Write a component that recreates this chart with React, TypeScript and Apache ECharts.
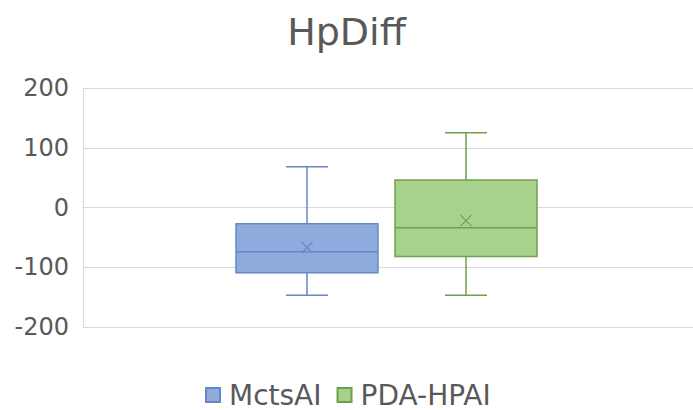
import React, { useEffect, useRef } from "react";
import * as echarts from "echarts";

const titleText = "HpDiff";
const categories = [""];
const seriesNames = ["MctsAI", "PDA-HPAI"];
// [min, Q1, median, Q3, max, mean]
const mctsStats = [-147, -109, -74, -27, 68, -67];
const pdaStats = [-147, -82, -34, 46, 125, -22];
const yTicks = { min: -200, max: 200, interval: 100 };

const fills = ["#8FAADC", "#A9D18E"];
const borders = ["#6689C6", "#6FA04C"];
const offsets = [-81, 78];
const BOX_W = 142;
const CAP_W = 42;
const MEAN_HALF = 5.5;

function makeRender(idx: number) {
  return (params: any, api: any) => {
    const xi = api.value(0);
    const ys = [1, 2, 3, 4, 5, 6].map((i) => api.coord([xi, api.value(i)])[1]);
    const cx0 = api.coord([xi, 0])[0];
    const cx = cx0 + offsets[idx];
    const [yMin, yQ1, yMed, yQ3, yMax, yMean] = ys;
    const stroke = borders[idx];
    const ls = { stroke, lineWidth: 1.5 };
    return {
      type: "group",
      children: [
        { type: "line", shape: { x1: cx, y1: yMax, x2: cx, y2: yQ3 }, style: ls },
        { type: "line", shape: { x1: cx, y1: yQ1, x2: cx, y2: yMin }, style: ls },
        { type: "line", shape: { x1: cx - CAP_W / 2, y1: yMax, x2: cx + CAP_W / 2, y2: yMax }, style: ls },
        { type: "line", shape: { x1: cx - CAP_W / 2, y1: yMin, x2: cx + CAP_W / 2, y2: yMin }, style: ls },
        {
          type: "rect",
          shape: { x: cx - BOX_W / 2, y: yQ3, width: BOX_W, height: yQ1 - yQ3 },
          style: { fill: fills[idx], stroke, lineWidth: 1.5 },
        },
        { type: "line", shape: { x1: cx - BOX_W / 2, y1: yMed, x2: cx + BOX_W / 2, y2: yMed }, style: ls },
        {
          type: "line",
          shape: { x1: cx - MEAN_HALF, y1: yMean - MEAN_HALF, x2: cx + MEAN_HALF, y2: yMean + MEAN_HALF },
          style: { stroke, lineWidth: 1.3 },
        },
        {
          type: "line",
          shape: { x1: cx - MEAN_HALF, y1: yMean + MEAN_HALF, x2: cx + MEAN_HALF, y2: yMean - MEAN_HALF },
          style: { stroke, lineWidth: 1.3 },
        },
      ],
    };
  };
}

export default function App() {
  const ref = useRef<HTMLDivElement>(null);
  useEffect(() => {
    if (!ref.current) return;
    const chart = echarts.init(ref.current, undefined, { renderer: "svg" });
    const font = "DejaVu Sans";
    const statsList = [mctsStats, pdaStats];
    chart.setOption({
      animation: false,
      title: {
        text: titleText,
        left: "center",
        top: 8,
        textStyle: { fontFamily: font, fontSize: 38, fontWeight: "normal", color: "#595959" },
      },
      legend: {
        data: seriesNames,
        left: 200,
        top: 376,
        icon: "rect",
        itemWidth: 14,
        itemHeight: 14,
        itemGap: 15,
        textStyle: { fontFamily: font, fontSize: 28, color: "#595959", lineHeight: 28, padding: [0, 0, 0, 4] },
      },
      grid: { left: 83, right: 0, top: 88, bottom: 83 },
      xAxis: {
        type: "category",
        data: categories,
        axisLine: { show: true, lineStyle: { color: "#D9D9D9", width: 1 } },
        axisTick: { show: false },
        axisLabel: { show: false },
        splitLine: { show: false },
      },
      yAxis: {
        type: "value",
        min: yTicks.min,
        max: yTicks.max,
        interval: yTicks.interval,
        axisLine: { show: true, lineStyle: { color: "#D9D9D9", width: 1 } },
        axisTick: { show: false },
        axisLabel: { fontFamily: font, fontSize: 24, color: "#595959", margin: 14, padding: [3, 0, 0, 0] },
        splitLine: { lineStyle: { color: "#D9D9D9", width: 1 } },
      },
      series: seriesNames.map((name, idx) => ({
        name,
        type: "custom",
        renderItem: makeRender(idx),
        encode: { x: 0, y: [1, 2, 3, 4, 5, 6] },
        itemStyle: { color: fills[idx], borderColor: borders[idx], borderWidth: 1 },
        data: [[categories[0], ...statsList[idx]]],
      })),
    });
    return () => chart.dispose();
  }, []);
  return (
    <div
      ref={ref}
      style={{ position: "fixed", left: 0, top: 0, width: 693, height: 410, background: "#fff" }}
    />
  );
}
